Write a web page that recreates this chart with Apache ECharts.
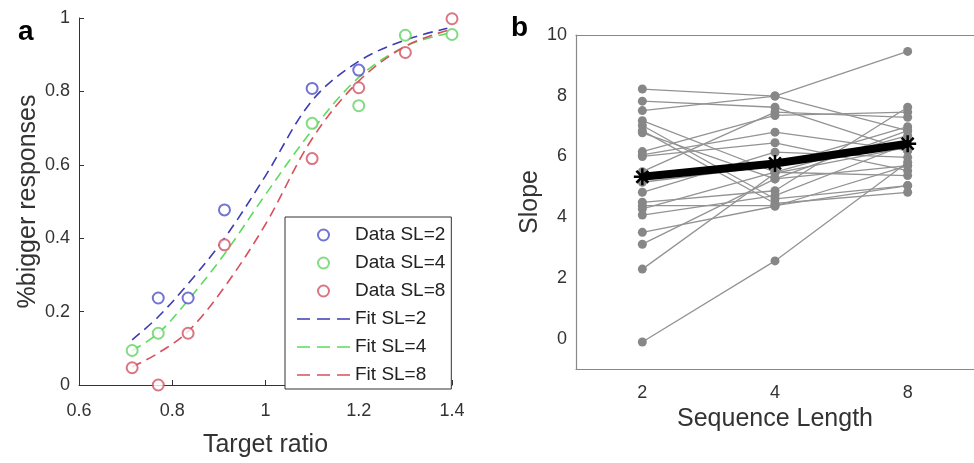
<!DOCTYPE html>
<html><head><meta charset="utf-8">
<script src="https://cdn.jsdelivr.net/npm/echarts@6/dist/echarts.min.js"></script>
<style>html,body{margin:0;padding:0;background:#fff}#c{width:974px;height:463px}</style>
</head><body><div id="c"></div>
<script>
// ---- Panel a: data points ----
const dataSL2X = [0.77, 0.834, 0.912, 1.1, 1.2];
const dataSL2Y = [0.237, 0.237, 0.477, 0.808, 0.858];
const dataSL4X = [0.714, 0.77, 1.1, 1.2, 1.3, 1.4];
const dataSL4Y = [0.094, 0.141, 0.713, 0.761, 0.953, 0.955];
const dataSL8X = [0.714, 0.77, 0.834, 0.912, 1.1, 1.2, 1.3, 1.4];
const dataSL8Y = [0.047, 0.0, 0.141, 0.382, 0.617, 0.81, 0.906, 0.998];
// ---- Panel a: fitted curves ----
const fitX    = [0.714, 0.77, 0.834, 0.912, 1.0, 1.1, 1.2, 1.3, 1.39];
const fitSL2Y = [0.123, 0.186, 0.276, 0.40, 0.57, 0.775, 0.882, 0.94, 0.972];
const fitSL4Y = [0.094, 0.141, 0.231, 0.357, 0.519, 0.694, 0.838, 0.923, 0.958];
const fitSL8Y = [0.049, 0.087, 0.146, 0.267, 0.438, 0.671, 0.828, 0.923, 0.966];
// ---- Panel b ----
const seqLengths = ['2', '4', '8'];
const slopeSL2 = [8.22, 7.82, 7.51, 7.18, 7.02, 6.85, 6.78, 6.16, 6.05, 6.00, 5.50, 5.15, 4.82, 4.49, 4.38, 4.27, 4.07, 3.50, 3.11, 2.29, -0.11];
const slopeSL4 = [7.99, 7.62, 7.99, 5.48, 4.60, 4.45, 5.26, 7.35, 6.80, 6.45, 7.46, 5.70, 6.14, 4.87, 4.38, 5.48, 4.71, 4.36, 5.26, 5.45, 2.56];
const slopeSL8 = [9.46, 6.19, 6.85, 5.37, 5.04, 4.82, 5.70, 7.46, 6.19, 5.53, 7.29, 6.98, 5.97, 7.62, 5.04, 6.69, 6.41, 5.70, 6.85, 6.30, 5.81];
const meanSlope = [5.33, 5.77, 6.42];

const FONT = 'Liberation Sans';
const zip = (xs, ys) => xs.map((x, i) => [x, ys[i]]);
const DASH_ICON = 'path://M0,0h13v1.7h-13zM20,0h13v1.7h-13zM40,0h13v1.7h-13z';

const chart = echarts.init(document.getElementById('c'));

const scatterSeries = (name, xs, ys, color) => ({
  name, type: 'scatter', xAxisIndex: 0, yAxisIndex: 0, clip: false,
  data: zip(xs, ys), symbol: 'emptyCircle', symbolSize: 11,
  itemStyle: { color: color, borderColor: color, borderWidth: 1.3 }, z: 5
});
const fitSeries = (name, ys, color) => ({
  name, type: 'line', xAxisIndex: 0, yAxisIndex: 0, data: zip(fitX, ys),
  smooth: 0.35, symbol: 'none', showSymbol: false,
  lineStyle: { color: color, width: 1.6, type: [10, 6] }, itemStyle: { color: color, borderWidth: 0 }, z: 3
});

const subjectSeries = slopeSL2.map((v, i) => ({
  type: 'line', xAxisIndex: 1, yAxisIndex: 1,
  data: [v, slopeSL4[i], slopeSL8[i]],
  symbol: 'circle', symbolSize: 9, showSymbol: true,
  itemStyle: { color: '#878787' }, lineStyle: { color: '#939393', width: 1.3 },
  silent: true, z: 2
}));

const option = {
  backgroundColor: '#fff',
  animation: false,
  textStyle: { fontFamily: FONT },
  grid: [
    { left: 79, right: 522, top: 18, bottom: 74 },
    { left: 576, right: -10, top: 35, bottom: 94 }
  ],
  xAxis: [
    { type: 'value', gridIndex: 0, min: 0.6, max: 1.4, interval: 0.2,
      axisLine: { onZero: false, lineStyle: { color: '#333', width: 1 } },
      axisTick: { inside: true, length: 5, lineStyle: { color: '#333' } },
      axisLabel: { margin: 17, fontSize: 18, color: '#333', fontFamily: FONT },
      splitLine: { show: false },
      name: 'Target ratio', nameLocation: 'middle', nameGap: 48,
      nameTextStyle: { fontSize: 25, color: '#333', fontFamily: FONT } },
    { type: 'category', gridIndex: 1, data: seqLengths, boundaryGap: true,
      axisLine: { onZero: false, lineStyle: { color: '#888', width: 1.2 } },
      axisTick: { inside: true, alignWithLabel: true, length: 5, lineStyle: { color: '#888' } },
      axisLabel: { margin: 15, fontSize: 18, color: '#333', fontFamily: FONT },
      name: 'Sequence Length', nameLocation: 'middle', nameGap: 36,
      nameTextStyle: { fontSize: 25, color: '#333', fontFamily: FONT } },
    { type: 'category', gridIndex: 1, data: seqLengths, boundaryGap: true, position: 'top',
      axisLine: { onZero: false, lineStyle: { color: '#888', width: 1.2 } },
      axisTick: { inside: true, alignWithLabel: true, length: 5, lineStyle: { color: '#888' } },
      axisLabel: { show: false } }
  ],
  yAxis: [
    { type: 'value', gridIndex: 0, min: 0, max: 1, interval: 0.2,
      axisLine: { show: true, onZero: false, lineStyle: { color: '#333', width: 1 } },
      axisTick: { show: true, inside: true, length: 5, lineStyle: { color: '#333' } },
      axisLabel: { margin: 9, fontSize: 18, color: '#333', fontFamily: FONT },
      splitLine: { show: false },
      name: '%bigger responses', nameLocation: 'middle', nameGap: 38,
      nameTextStyle: { fontSize: 25, color: '#333', fontFamily: FONT } },
    { type: 'value', gridIndex: 1, min: -1, max: 10, interval: 1,
      axisLine: { show: true, onZero: false, lineStyle: { color: '#888', width: 1.2 } },
      axisTick: { show: false },
      axisLabel: { margin: 9, fontSize: 18, color: '#333', fontFamily: FONT,
        formatter: v => (Math.round(v) % 2 === 0 ? String(Math.round(v)) : '') },
      splitLine: { show: false },
      name: 'Slope', nameLocation: 'middle', nameGap: 29,
      nameTextStyle: { fontSize: 25, color: '#333', fontFamily: FONT } }
  ],
  legend: {
    left: 285, top: 217, orient: 'vertical',
    itemWidth: 53, itemHeight: 11, itemGap: 8,
    symbolKeepAspect: true,
    padding: [8, 6, 4, 12],
    borderColor: '#333', borderWidth: 1, backgroundColor: '#fff',
    textStyle: { fontSize: 19, lineHeight: 20, color: '#222', fontFamily: FONT },
    selectedMode: false,
    data: ['Data SL=2', 'Data SL=4', 'Data SL=8',
      { name: 'Fit SL=2', icon: DASH_ICON }, { name: 'Fit SL=4', icon: DASH_ICON }, { name: 'Fit SL=8', icon: DASH_ICON }]
  },
  graphic: [
    { type: 'text', left: 18, top: 18, style: { text: 'a', font: 'bold 28px ' + FONT, fill: '#000' } },
    { type: 'text', left: 511, top: 14, style: { text: 'b', font: 'bold 28px ' + FONT, fill: '#000' } }
  ],
  series: [
    fitSeries('Fit SL=2', fitSL2Y, '#3c3cb4'),
    fitSeries('Fit SL=4', fitSL4Y, '#5cdc5c'),
    fitSeries('Fit SL=8', fitSL8Y, '#d8505c'),
    scatterSeries('Data SL=2', dataSL2X, dataSL2Y, '#5050c8'),
    scatterSeries('Data SL=4', dataSL4X, dataSL4Y, '#64d264'),
    scatterSeries('Data SL=8', dataSL8X, dataSL8Y, '#d05462'),
    ...subjectSeries,
    { name: 'Mean', type: 'line', xAxisIndex: 1, yAxisIndex: 1, data: meanSlope,
      symbol: 'path://M0,-10L0,10M-10,0L10,0M-7,-7L7,7M-7,7L7,-7', symbolSize: 17,
      itemStyle: { color: '#000', borderColor: '#000', borderWidth: 2.5 },
      lineStyle: { color: '#000', width: 8 }, z: 10 }
  ]
};
chart.setOption(option);
</script>
</body></html>
